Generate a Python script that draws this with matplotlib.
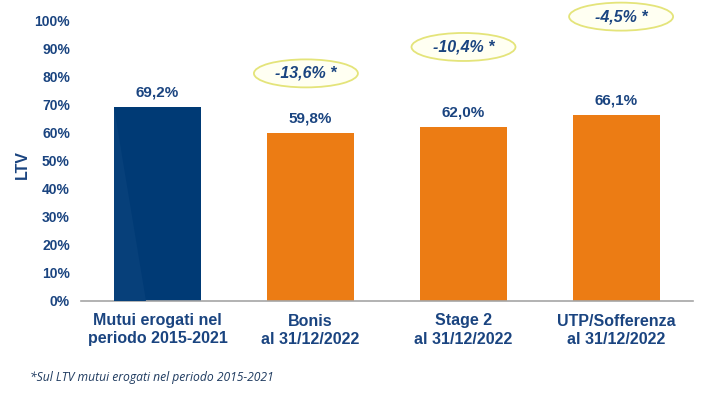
import matplotlib
matplotlib.use("Agg")
import matplotlib.pyplot as plt
from matplotlib.patches import Ellipse, Polygon

categories = ["Mutui erogati nel\nperiodo 2015-2021", "Bonis\nal 31/12/2022",
              "Stage 2\nal 31/12/2022", "UTP/Sofferenza\nal 31/12/2022"]
values = [69.2, 59.8, 62.0, 66.1]
value_labels = ["69,2%", "59,8%", "62,0%", "66,1%"]
deltas = ["-13,6% *", "-10,4% *", "-4,5% *"]
delta_pos = [81.0, 90.4, 101.2]
delta_off = [-0.03, 0.0, 0.03]
yticks = list(range(0, 101, 10))

navy = "#003a75"
orange = "#ec7c14"
txt = "#1a4480"

plt.rcParams['font.family'] = ['Liberation Sans', 'DejaVu Sans']
fig = plt.figure(figsize=(7.25, 3.93), dpi=100)
ax = fig.add_axes([81/725, 92/393, 612/725, 281/393])

x = list(range(len(categories)))
colors = [navy] + [orange] * 3
bw = 87/153
bars = ax.bar(x, values, width=bw, color=colors, zorder=2)

# subtle lighter wedge on first bar
b = bars[0]
l = b.get_x()
poly = Polygon([(l, values[0]), (l, 0), (l + 0.37 * bw, 0)], closed=True,
               facecolor="#07407a", edgecolor="none", zorder=3)
ax.add_patch(poly)

for xi, v, s in zip(x, values, value_labels):
    ax.text(xi, v + 2.6, s, ha="center", va="bottom", fontsize=11,
            fontweight="bold", color=txt)

for i, (d, yp) in enumerate(zip(deltas, delta_pos)):
    xc = x[i + 1] + delta_off[i]
    e = Ellipse((xc, yp), width=104/153, height=28/2.81, facecolor="#fffff2",
                edgecolor="#e4e47a", linewidth=1.3, clip_on=False, zorder=3)
    ax.add_patch(e)
    ax.text(xc, yp, d, ha="center", va="center", fontsize=11.5,
            fontweight="bold", fontstyle="italic", color=txt, clip_on=False, zorder=4)

ax.set_xlim(-0.5, 3.5)
ax.set_ylim(0, 100)
ax.set_yticks(yticks)
ax.set_yticklabels([f"{t}%" for t in yticks], fontsize=10, fontweight="bold", color=txt)
ax.set_xticks(x)
ax.set_xticklabels(categories, fontsize=11.5, fontweight="bold", color=txt, linespacing=1.25)
ax.tick_params(axis="both", length=0)
ax.tick_params(axis="y", pad=8)
ax.tick_params(axis="x", pad=9)
for s in ["top", "right", "left"]:
    ax.spines[s].set_visible(False)
ax.spines["bottom"].set_color("#a6a6a6")
ax.spines["bottom"].set_linewidth(1.2)

fig.text(22/725, 1 - 165/393, "LTV", rotation=90, ha="center", va="center",
         fontsize=11.5, fontweight="bold", color=txt)
fig.text(30/725, 1 - 378/393, "*Sul LTV mutui erogati nel periodo 2015-2021",
         ha="left", va="center", fontsize=8.7, fontstyle="italic", color="#1f3b60",
         family=["Open Sans", "DejaVu Sans"])

fig.savefig("out.png", dpi=100)
